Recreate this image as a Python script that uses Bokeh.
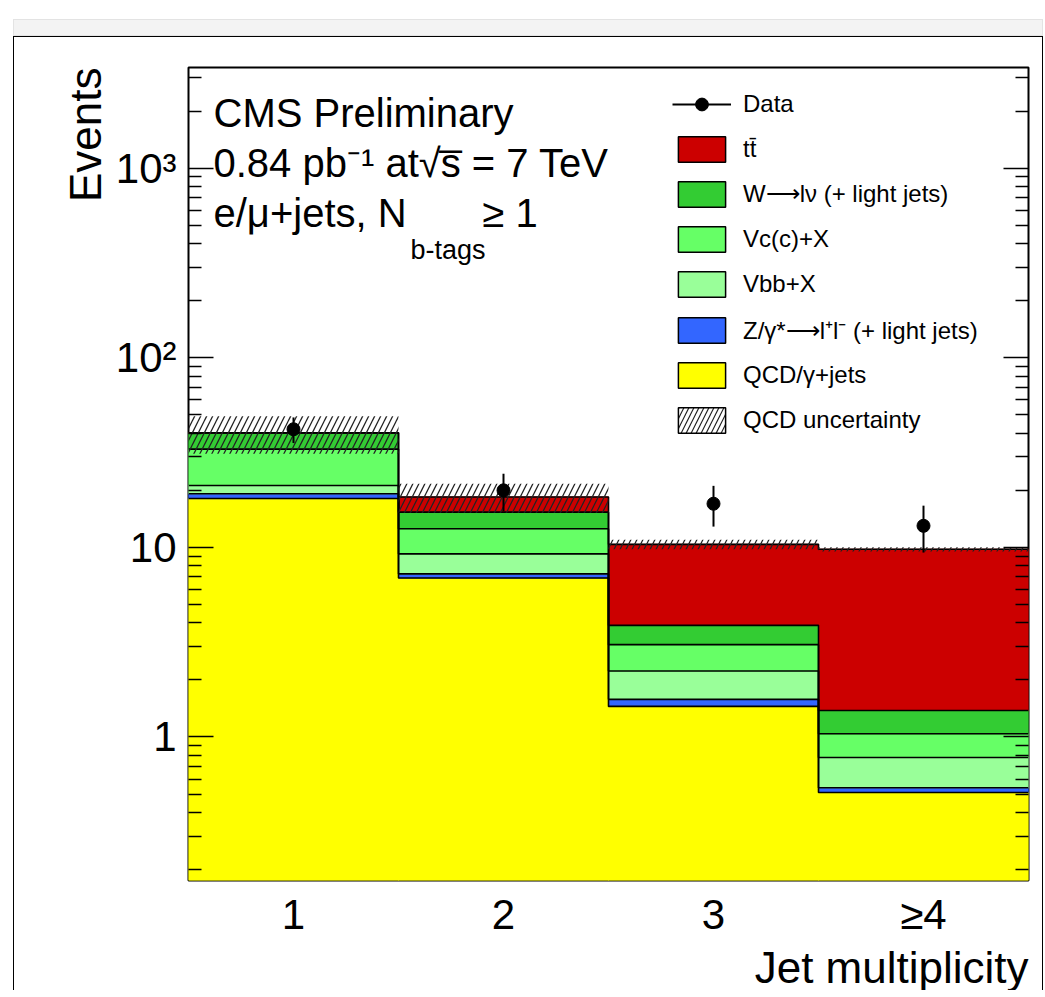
import numpy as np
from bokeh.plotting import figure
from bokeh.models import (Range1d, FixedTicker, Label, Legend, LegendItem,
                          LogAxis, Div, Title)
from bokeh.layouts import column
from bokeh.embed import file_html
from bokeh.resources import INLINE

# ---------------- data ----------------
bins = ["1", "2", "3", "≥4"]
qcd = [18.1, 6.9, 1.45, 0.51]
zll = [1.1, 0.35, 0.13, 0.03]
vbb = [2.0, 2.0, 0.65, 0.24]
vcc = [11.8, 3.3, 0.84, 0.26]
wlv = [7.2, 2.8, 0.81, 0.34]
ttbar = [0.0, 3.1, 6.5, 8.4]
qcd_unc = [9.0, 3.2, 0.6, 0.25]
data = [42, 20, 17, 13]

labels = ["QCD/γ+jets", "Z/γ*⟶l⁺l⁻ (+ light jets)", "Vbb+X", "Vc(c)+X",
          "W⟶lν (+ light jets)", "tt\u0304"]
colors = ["#ffff00", "#3366ff", "#99ff99", "#66ff66", "#33cc33", "#cc0000"]

Y_MIN, Y_MAX = 0.175, 3400
FONT = "Liberation Sans"

centers = np.arange(1, len(bins) + 1)
left = centers - 0.5
right = centers + 0.5

p = figure(frame_width=838, frame_height=812,
           min_border_left=174, min_border_right=16,
           min_border_top=30, min_border_bottom=108,
           x_range=Range1d(0.5, 4.5), y_range=Range1d(Y_MIN, Y_MAX),
           y_axis_type="log", output_backend="svg", toolbar_location=None,
           margin=(0, 0, 0, 13),
           styles={"border-left": "1.5px solid black",
                   "border-top": "1.5px solid black",
                   "border-right": "1.5px solid black"})
p.xgrid.visible = False
p.ygrid.visible = False
p.outline_line_color = "black"
p.outline_line_width = 2
p.background_fill_color = "white"
p.border_fill_color = "white"

# ---------------- stacked histogram ----------------
comps = [qcd, zll, vbb, vcc, wlv, ttbar]
cum_prev = np.full(len(bins), Y_MIN)
cum = np.zeros(len(bins))
tops = []
for vals, col in zip(comps, colors):
    cum = cum + np.array(vals, dtype=float)
    p.quad(left=left, right=right, bottom=cum_prev, top=cum,
           fill_color=col, line_color=col, line_width=1)
    tops.append(cum.copy())
    cum_prev = cum.copy()

sx = np.column_stack([left, right]).ravel()
for t in tops:
    p.line(sx, np.repeat(t, 2), line_color="black", line_width=1.6)

# QCD uncertainty band
unc = np.array(qcd_unc)
p.quad(left=left, right=right, bottom=cum - unc, top=cum + unc,
       fill_alpha=0, line_color=None, hatch_pattern="/",
       hatch_color="#222222", hatch_weight=1.3, hatch_scale=12)

# data
d = np.array(data, dtype=float)
err = np.sqrt(d)
seg = p.segment(x0=centers, y0=d - err, x1=centers, y1=d + err,
                line_color="black", line_width=2)
pts = p.scatter(centers, d, size=13, color="black")

# ---------------- legend (proxies hold no visible marks) ----------------
NA = [np.nan]
items = [LegendItem(label="Data", renderers=[seg, pts])]
for lab, col in reversed(list(zip(labels, colors))):
    proxy = p.quad(left=NA, right=NA, bottom=NA, top=NA, fill_color=col,
                   line_color="black", line_width=1.5)
    items.append(LegendItem(label=lab, renderers=[proxy]))
hproxy = p.quad(left=NA, right=NA, bottom=NA, top=NA, fill_color="white",
                line_color="black", line_width=1.5, hatch_pattern="/",
                hatch_color="#222222", hatch_weight=1.2, hatch_scale=10)
items.append(LegendItem(label="QCD uncertainty", renderers=[hproxy]))

legend = Legend(items=items, location=(484, 444), glyph_width=59,
                glyph_height=32, spacing=13, padding=0, margin=0,
                label_standoff=12, label_text_font=FONT,
                label_text_font_size="24px", label_text_color="black",
                border_line_color=None, background_fill_alpha=0)
p.add_layout(legend)

# ---------------- axes ----------------
minor = [m * 10.0 ** k for k in range(-1, 4) for m in range(2, 10)]
yt = FixedTicker(ticks=[1, 10, 100, 1000], minor_ticks=minor)
p.yaxis.ticker = yt
p.yaxis.major_label_overrides = {1: "1", 10: "10", 100: "10²", 1000: "10³"}
for ax in p.yaxis:
    ax.major_tick_in = 25
    ax.major_tick_out = 0
    ax.minor_tick_in = 13
    ax.minor_tick_out = 0
    ax.major_tick_line_width = 1.5
    ax.minor_tick_line_width = 1.5
    ax.major_tick_line_color = "black"
    ax.minor_tick_line_color = "black"
    ax.axis_line_color = None
    ax.major_label_text_font = FONT
    ax.major_label_text_font_size = "42px"
    ax.major_label_text_color = "black"
    ax.major_label_standoff = 12

rax = LogAxis(ticker=FixedTicker(ticks=[1, 10, 100, 1000], minor_ticks=minor),
              major_tick_in=25, major_tick_out=0, minor_tick_in=13,
              minor_tick_out=0, major_tick_line_width=1.5,
              minor_tick_line_width=1.5, axis_line_color=None,
              major_label_text_font_size="1px", major_label_text_alpha=0,
              major_label_standoff=0)
p.add_layout(rax, "right")

p.xaxis.ticker = FixedTicker(ticks=[int(c) for c in centers])
p.xaxis.major_label_overrides = {int(c): b for c, b in zip(centers, bins)}
p.xaxis.major_tick_line_color = None
p.xaxis.minor_tick_line_color = None
p.xaxis.axis_line_color = None
p.xaxis.major_label_text_font = FONT
p.xaxis.major_label_text_font_size = "42px"
p.xaxis.major_label_text_color = "black"
p.xaxis.major_label_standoff = 4

# axis titles, right/top aligned as in the reference
p.add_layout(Title(text="Jet multiplicity", align="right",
                   text_font=FONT, text_font_size="44px",
                   text_font_style="normal", text_color="black",
                   standoff=0), "below")
p.add_layout(Title(text="Events", align="right",
                   text_font=FONT, text_font_size="44px",
                   text_font_style="normal", text_color="black",
                   standoff=6), "left")


# ---------------- texts ----------------
def add_text(text, x, y, xo, yo, size, align="left", baseline="alphabetic"):
    p.add_layout(Label(x=x, y=y, x_offset=xo, y_offset=yo, text=text,
                       text_font=FONT, text_font_size=size,
                       text_align=align, text_baseline=baseline,
                       text_color="black"))


add_text("CMS Preliminary", 0.5, Y_MAX, 25, -45, "40px")
add_text("0.84 pb⁻¹ at√s\u0305 = 7 TeV", 0.5, Y_MAX, 25, -95, "40px")
add_text("e/μ+jets, N", 0.5, Y_MAX, 25, -145, "40px")
add_text("b-tags", 0.5, Y_MAX, 222, -182, "27px")
add_text("≥ 1", 0.5, Y_MAX, 294, -145, "40px")

strip = Div(text="", width=1030, height=17, margin=(19, 0, 0, 13),
            styles={"background-color": "#f3f3f3",
                    "border": "1px solid #e3e3e3"})

layout = column(strip, p, spacing=0)
open("out.html", "w").write(file_html(layout, INLINE))
